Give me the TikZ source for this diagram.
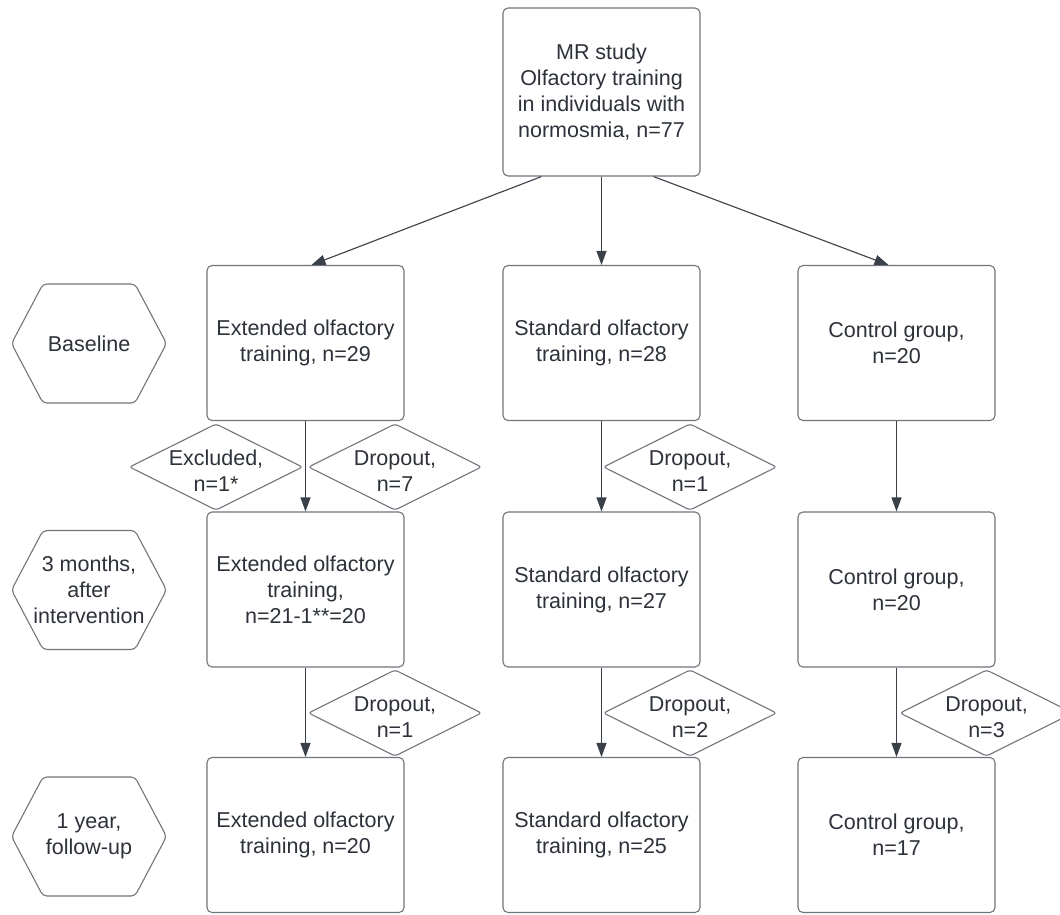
\documentclass[tikz,border=0pt]{standalone}
\usepackage{fontspec}
\setmainfont{Liberation Sans}
\usetikzlibrary{arrows.meta,calc}
\definecolor{txt}{RGB}{45,50,58}
\definecolor{bord}{RGB}{112,117,124}
\definecolor{arr}{RGB}{58,64,72}
\tikzset{
  lbl/.style={align=center, text=txt, font=\fontsize{21.5}{26}\selectfont, inner sep=0pt},
  box/.style={lbl, draw=bord, line width=1.1pt, rounded corners=5pt, minimum width=197pt, minimum height=155pt},
  shp/.style={draw=bord, line width=1.1pt, rounded corners=4pt},
  conn/.style={draw=arr, line width=1.1pt, -{Triangle[length=14pt,width=10pt]}},
}
\newcommand{\hexa}[1]{\draw[shp] ($(#1)+(-77.5,0)$) -- ($(#1)+(-46,-59.5)$) -- ($(#1)+(46,-59.5)$) -- ($(#1)+(77.5,0)$) -- ($(#1)+(46,59.5)$) -- ($(#1)+(-46,59.5)$) -- cycle;}
\newcommand{\diam}[1]{\draw[shp, rounded corners=3pt] ($(#1)+(-86.5,-4)$) -- ($(#1)+(0,-47)$) -- ($(#1)+(86.5,-4)$) -- ($(#1)+(0,39)$) -- cycle;}
\begin{document}
\begin{tikzpicture}[x=1pt, y=-1pt]
\clip (0,0) rectangle (1060,914);
\fill[white] (0,0) rectangle (1060,914);

% top box
\node[box, minimum height=168pt] (top) at (601.5,92) {MR study\\Olfactory training\\in individuals with\\normosmia, n=77};

% rows
\node[box] (e1) at (305.5,343) {Extended olfactory\\training, n=29};
\node[box] (s1) at (601.5,343) {Standard olfactory\\training, n=28};
\node[box] (c1) at (896.5,343) {Control group,\\n=20};

\node[box] (e2) at (305.5,589.5) {Extended olfactory\\training,\\n=21-1**=20};
\node[box] (s2) at (601.5,589.5) {Standard olfactory\\training, n=27};
\node[box] (c2) at (896.5,589.5) {Control group,\\n=20};

\node[box] (e3) at (305.5,835) {Extended olfactory\\training, n=20};
\node[box] (s3) at (601.5,835) {Standard olfactory\\training, n=25};
\node[box] (c3) at (896.5,835) {Control group,\\n=17};

% hexagons
\node[lbl] (h1) at (89,343.5) {Baseline};
\hexa{h1}
\node[lbl] (h2) at (89,590) {3 months,\\after\\intervention};
\hexa{h2}
\node[lbl] (h3) at (89,836.5) {1 year,\\follow-up};
\hexa{h3}

% diamonds (text placed slightly below the diamond centre, as in the reference)
\node[lbl] (d1) at (216,471) {Excluded,\\n=1*};
\diam{d1}
\node[lbl] (d2) at (395,471) {Dropout,\\n=7};
\diam{d2}
\node[lbl] (d3) at (690,471) {Dropout,\\n=1};
\diam{d3}
\node[lbl] (d4) at (395,717) {Dropout,\\n=1};
\diam{d4}
\node[lbl] (d5) at (690,717) {Dropout,\\n=2};
\diam{d5}
\node[lbl] (d6) at (986.5,717) {Dropout,\\n=3};
\diam{d6}

% connectors
\draw[conn] ($(top.south)+(-60,0)$) -- ($(e1.north)+(6,0)$);
\draw[conn] (top.south) -- (s1.north);
\draw[conn] ($(top.south)+(52,0)$) -- ($(c1.north)+(-8,0)$);

\draw[conn] (e1.south) -- (e2.north);
\draw[conn] (s1.south) -- (s2.north);
\draw[conn] (c1.south) -- (c2.north);
\draw[conn] (e2.south) -- (e3.north);
\draw[conn] (s2.south) -- (s3.north);
\draw[conn] (c2.south) -- (c3.north);
\end{tikzpicture}
\end{document}
